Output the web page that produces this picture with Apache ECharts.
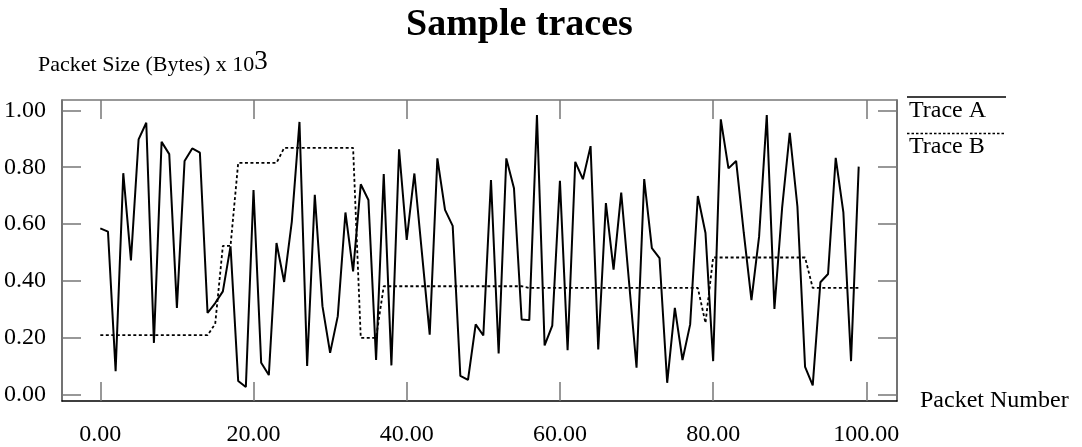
<!DOCTYPE html>
<html>
<head>
<meta charset="utf-8">
<script src="https://cdn.jsdelivr.net/npm/echarts@6/dist/echarts.min.js"></script>
<style>
  html, body { margin: 0; padding: 0; background: #fff; }
  #main { width: 1082px; height: 447px; }
</style>
</head>
<body>
<div id="main"></div>
<script>
// packet numbers 0..99
var packetNumbers = [];
for (var n = 0; n < 100; n++) packetNumbers.push(n);

// Trace A
var traceA = [
  0.585, 0.574, 0.084, 0.779, 0.473, 0.898, 0.956, 0.183, 0.889, 0.846,
  0.306, 0.822, 0.866, 0.851, 0.288, 0.323, 0.364, 0.522, 0.049, 0.028,
  0.720, 0.113, 0.070, 0.534, 0.397, 0.609, 0.959, 0.102, 0.703, 0.312,
  0.148, 0.277, 0.641, 0.434, 0.740, 0.685, 0.123, 0.776, 0.104, 0.863,
  0.545, 0.778, 0.495, 0.212, 0.831, 0.650, 0.594, 0.067, 0.053, 0.248,
  0.209, 0.755, 0.146, 0.831, 0.726, 0.265, 0.263, 0.983, 0.174, 0.244,
  0.752, 0.157, 0.819, 0.758, 0.874, 0.160, 0.674, 0.440, 0.711, 0.403,
  0.096, 0.758, 0.516, 0.481, 0.043, 0.306, 0.123, 0.248, 0.699, 0.569,
  0.119, 0.968, 0.796, 0.822, 0.569, 0.333, 0.557, 0.983, 0.302, 0.656,
  0.921, 0.662, 0.099, 0.034, 0.396, 0.425, 0.833, 0.641, 0.119, 0.802
];

// Trace B
var traceB = [
  0.210, 0.210, 0.210, 0.210, 0.210, 0.210, 0.210, 0.210, 0.210, 0.210,
  0.210, 0.210, 0.210, 0.210, 0.210, 0.250, 0.524, 0.524, 0.815, 0.815,
  0.815, 0.815, 0.815, 0.815, 0.868, 0.868, 0.868, 0.868, 0.868, 0.868,
  0.868, 0.868, 0.868, 0.868, 0.201, 0.201, 0.201, 0.382, 0.382, 0.382,
  0.382, 0.382, 0.382, 0.382, 0.382, 0.382, 0.382, 0.382, 0.382, 0.382,
  0.382, 0.382, 0.382, 0.382, 0.382, 0.382, 0.376, 0.376, 0.376, 0.376,
  0.376, 0.376, 0.376, 0.376, 0.376, 0.376, 0.376, 0.376, 0.376, 0.376,
  0.376, 0.376, 0.376, 0.376, 0.376, 0.376, 0.376, 0.376, 0.376, 0.253,
  0.483, 0.483, 0.483, 0.483, 0.483, 0.483, 0.483, 0.483, 0.483, 0.483,
  0.483, 0.483, 0.483, 0.376, 0.376, 0.376, 0.376, 0.376, 0.376, 0.376
];

var xTicks = [0, 20, 40, 60, 80, 100];
var yTicks = [0, 0.2, 0.4, 0.6, 0.8, 1.0];

var serif = "Liberation Serif";

var pairs = function (ys) {
  return packetNumbers.map(function (x, i) { return [x, ys[i]]; });
};

var chart = echarts.init(document.getElementById("main"));

var option = {
  animation: false,
  backgroundColor: "#fff",
  title: {
    text: "Sample traces",
    left: 401,
    top: 1,
    textStyle: { fontFamily: serif, fontWeight: "bold", fontSize: 38, color: "#000" }
  },
  grid: { left: 62, top: 100, width: 835, height: 302 },
  xAxis: [
    {
      type: "value",
      position: "bottom",
      min: -5,
      max: 104,
      axisLine: { show: true, onZero: false, lineStyle: { color: "#000", width: 1.5 } },
      axisTick: { show: true, inside: true, length: 19, customValues: xTicks, lineStyle: { color: "#777", width: 1.5 } },
      axisLabel: {
        customValues: xTicks,
        margin: 22,
        fontFamily: serif,
        fontSize: 24,
        color: "#000",
        formatter: function (v) { return v.toFixed(2); }
      },
      splitLine: { show: false },
      name: "Packet Number",
      nameLocation: "end",
      nameGap: 23,
      nameTextStyle: { fontFamily: serif, fontSize: 24, color: "#000", align: "left", verticalAlign: "middle" }
    },
    {
      type: "value",
      position: "top",
      min: -5,
      max: 104,
      axisLine: { show: true, onZero: false, lineStyle: { color: "#777", width: 1.5 } },
      axisTick: { show: true, inside: true, length: 19, customValues: xTicks, lineStyle: { color: "#777", width: 1.5 } },
      axisLabel: { show: false },
      splitLine: { show: false }
    }
  ],
  yAxis: [
    {
      type: "value",
      position: "left",
      min: -0.021,
      max: 1.036,
      axisLine: { show: true, onZero: false, lineStyle: { color: "#444", width: 1.5 } },
      axisTick: { show: true, inside: true, length: 19, customValues: yTicks, lineStyle: { color: "#777", width: 1.5 } },
      axisLabel: {
        customValues: yTicks,
        margin: 16,
        fontFamily: serif,
        fontSize: 24,
        color: "#000",
        formatter: function (v) { return v.toFixed(2); }
      },
      splitLine: { show: false }
    },
    {
      type: "value",
      position: "right",
      min: -0.021,
      max: 1.036,
      axisLine: { show: true, onZero: false, lineStyle: { color: "#444", width: 1.5 } },
      axisTick: { show: true, inside: true, length: 19, customValues: yTicks, lineStyle: { color: "#777", width: 1.5 } },
      axisLabel: { show: false },
      splitLine: { show: false }
    }
  ],
  graphic: [
    {
      type: "text",
      left: 38,
      top: 48,
      style: {
        text: "Packet Size (Bytes) x 10{s|3}",
        fontFamily: serif,
        fontSize: 22,
        fill: "#000",
        rich: { s: { fontFamily: serif, fontSize: 27, padding: [0, 0, 8, 0] } }
      }
    },
    { type: "line", shape: { x1: 907, y1: 97, x2: 1006, y2: 97 }, style: { stroke: "#000", lineWidth: 1.6 } },
    { type: "text", left: 909, top: 99, style: { text: "Trace A", fontFamily: serif, fontSize: 24, fill: "#000" } },
    { type: "line", shape: { x1: 907, y1: 133.5, x2: 1006, y2: 133.5 }, style: { stroke: "#000", lineWidth: 1.6, lineDash: [2.5, 2] } },
    { type: "text", left: 909, top: 135, style: { text: "Trace B", fontFamily: serif, fontSize: 24, fill: "#000" } }
  ],
  series: [
    {
      name: "Trace A",
      type: "line",
      data: pairs(traceA),
      symbol: "none",
      lineStyle: { color: "#000", width: 2 }
    },
    {
      name: "Trace B",
      type: "line",
      data: pairs(traceB),
      symbol: "none",
      lineStyle: { color: "#000", width: 1.8, type: [3, 2.5] }
    }
  ]
};

chart.setOption(option);
</script>
</body>
</html>
